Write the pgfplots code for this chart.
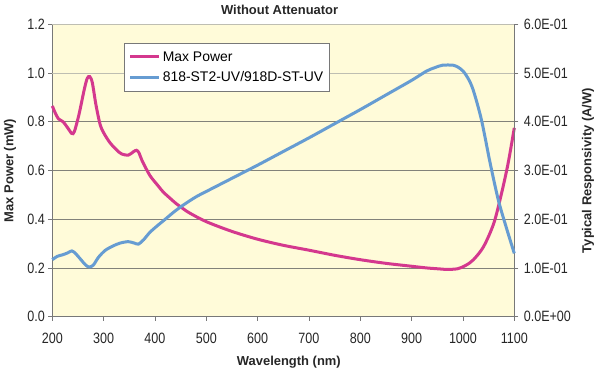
\documentclass[border=0pt]{standalone}
\usepackage{pgfplots}
\pgfplotsset{compat=1.18}
\usepackage{fontspec}
\setmainfont{Liberation Sans}
\newfontfamily\narrow{Liberation Sans}[FakeStretch=0.84]
\definecolor{pinkc}{RGB}{212,56,142}
\definecolor{bluec}{RGB}{102,156,210}
\definecolor{bgc}{RGB}{255,251,217}
\definecolor{gridc}{RGB}{130,130,122}
\definecolor{gridl}{RGB}{190,190,178}
\definecolor{axc}{RGB}{120,120,120}
\begin{document}
\begin{tikzpicture}[x=1bp,y=1bp]
\path[use as bounding box] (0,0) rectangle (600,373);
\begin{axis}[
  scale only axis, width=462bp, height=292.4bp,
  at={(52.3bp,56.3bp)}, anchor=south west,
  xmin=200, xmax=1100, ymin=0, ymax=1.2,
  xtick={200,300,...,1100}, ytick={0,0.2,0.4,0.6,0.8},
  extra y ticks={1.0,1.2},
  extra y tick style={grid style={draw=gridl, line width=0.8bp}},
  axis x line=bottom, axis y line=left,
  axis line style={-, draw=axc, line width=0.8bp},
  tick style={draw=axc, line width=0.8bp},
  tick align=outside, major tick length=4bp,
  ymajorgrids, grid style={draw=gridc, line width=0.8bp},
  axis background/.style={fill=bgc},
  /pgf/number format/assume math mode=true,
  yticklabel={\pgfmathprintnumber[fixed,fixed zerofill,precision=1]{\tick}},
  extra y tick labels={1.0,1.2},
  xticklabel={\pgfmathprintnumber[fixed,precision=0,1000 sep={}]{\tick}},
  ticklabel style={font=\narrow\fontsize{15}{17}\selectfont, text=black!85},
  xticklabel style={yshift=-9bp},
  xlabel={Wavelength (nm)},
  ylabel={Max Power (mW)},
  label style={font=\bfseries\fontsize{13}{15}\selectfont, text=black!85},
  xlabel style={at={(axis description cs:0.512,-0.156)}, anchor=center},
  ylabel style={at={(axis description cs:-0.0916,0.5)}, anchor=center},
  title={Without Attenuator},
  every axis title shift=0pt,
  title style={font=\bfseries\fontsize{13}{15}\selectfont, text=black!85, at={(axis description cs:0.492,1.049)}, anchor=center},
  clip=false,
]
\addplot[pinkc, line width=3bp, smooth, tension=0.5] coordinates {
(200,0.865) (206,0.835) (212,0.812) (221,0.800) (230,0.775) (238,0.752)
(243,0.760) (252,0.830) (262,0.930) (268,0.978) (273,0.985) (278,0.960)
(285,0.870) (293,0.790) (300,0.755) (312,0.715) (325,0.685) (335,0.668)
(348,0.663) (358,0.677) (364,0.683) (369,0.672) (375,0.640) (390,0.580)
(405,0.540) (416,0.512) (430,0.485) (442,0.463) (455,0.443) (468,0.425)
(500,0.390) (550,0.350) (600,0.318) (650,0.293) (700,0.273) (750,0.252)
(800,0.234) (850,0.219) (900,0.207) (930,0.200) (955,0.196) (970,0.194)
(990,0.197) (1005,0.210) (1020,0.233) (1040,0.287) (1060,0.383) (1075,0.505)
(1088,0.630) (1100,0.775)
};
\end{axis}
\begin{axis}[
  scale only axis, width=462bp, height=292.4bp,
  at={(52.3bp,56.3bp)}, anchor=south west,
  xmin=200, xmax=1100, ymin=0, ymax=0.6,
  axis x line=none, axis y line=right,
  axis line style={-, draw=axc, line width=0.8bp},
  tick style={draw=axc, line width=0.8bp},
  tick align=outside, major tick length=4bp,
  ytick={0,0.1,0.2,0.3,0.4,0.5,0.6},
  yticklabels={0.0E+00,1.0E-01,2.0E-01,3.0E-01,4.0E-01,5.0E-01,6.0E-01},
  ticklabel style={font=\narrow\fontsize{15}{17}\selectfont, text=black!85},
  yticklabel style={xshift=2bp},
  ylabel={Typical Responsivity (A/W)},
  ylabel style={font=\bfseries\fontsize{13}{15}\selectfont, text=black!85, at={(axis description cs:1.1595,0.5)}, anchor=center},
  clip=false,
  legend style={at={(axis description cs:0.156,0.936)}, anchor=north west,
    draw=axc, fill=white, line width=0.8bp, font=\fontsize{14}{16}\selectfont,
    inner xsep=4bp, inner ysep=6bp, row sep=5bp, cells={anchor=west}},
  legend image code/.code={\draw[#1, line width=3bp] (0bp,0bp) -- (29bp,0bp);},
]
\addlegendimage{pinkc}
\addlegendentry{Max Power}
\addplot[bluec, line width=3bp, smooth, tension=0.5] coordinates {
(200,0.117) (210,0.124) (220,0.127) (230,0.131) (238,0.135) (245,0.130)
(255,0.118) (265,0.106) (272,0.102) (280,0.106) (290,0.122) (303,0.136)
(318,0.145) (332,0.151) (348,0.154) (360,0.151) (368,0.149) (378,0.158)
(390,0.173) (405,0.187) (420,0.200) (437,0.215) (455,0.229) (480,0.246)
(500,0.257) (550,0.284) (600,0.311) (650,0.339) (700,0.367) (750,0.396)
(800,0.425) (850,0.455) (900,0.485) (929,0.504) (945,0.511) (960,0.516)
(981,0.516) (992,0.511) (1001,0.503) (1010,0.489) (1020,0.465) (1036,0.404)
(1053,0.315) (1069,0.239) (1085,0.181) (1100,0.130)
};
\addlegendentry{818-ST2-UV/918D-ST-UV}
\end{axis}
\end{tikzpicture}
\end{document}
